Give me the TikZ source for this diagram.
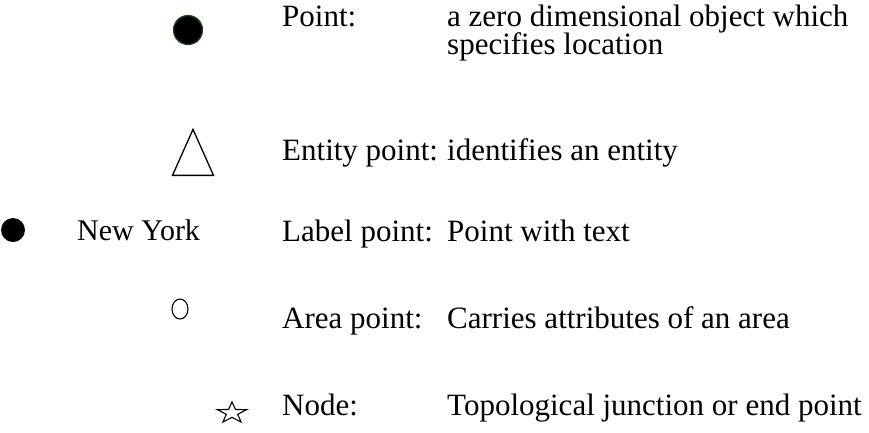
\documentclass[tikz,border=0pt]{standalone}
\usepackage{fontspec}
\setmainfont{Liberation Serif}
\usetikzlibrary{shapes.geometric}
\definecolor{ptgreen}{HTML}{1E4A1E}
\begin{document}
\begin{tikzpicture}[x=1pt,y=-1pt,
  lbl/.style={anchor=base west,inner sep=0pt,font=\fontsize{31}{32}\selectfont},
  sym/.style={draw=black,line width=1.3pt}]
\useasboundingbox (0,0) rectangle (869,432);
% symbols
\node[circle,fill=black,draw=ptgreen,line width=1.2pt,minimum size=29pt,inner sep=0pt] (pt) at (188,30) {};
\node[sym,isosceles triangle,isosceles triangle apex angle=48,shape border rotate=90,minimum height=46pt,inner sep=0pt,anchor=south] (ent) at (193,176) {};
\node[circle,fill=black,minimum size=24pt,inner sep=0pt] (lp) at (13,230) {};
\node[sym,ellipse,line width=1.1pt,minimum width=16pt,minimum height=20pt,inner sep=0pt] (ap) at (180,309) {};
\node[sym,line width=1.1pt,star,star points=5,star point ratio=2.6,minimum size=31pt,inner sep=0pt,yscale=0.72] (nd) at (232,413) {};
% texts
\node[lbl,font=\fontsize{30}{32}\selectfont] (ny) at (77,240) {New York};
\node[lbl] (t1) at (282,26) {Point:};
\node[lbl] (d1) at (447,26) {a zero dimensional object which};
\node[lbl] (d1b) at (447,54) {specifies location};
\node[lbl] (t2) at (282,160) {Entity point:};
\node[lbl] (d2) at (447,160) {identifies an entity};
\node[lbl] (t3) at (282,241) {Label point:};
\node[lbl] (d3) at (447,241) {Point with text};
\node[lbl] (t4) at (282,328) {Area point:};
\node[lbl] (d4) at (447,328) {Carries attributes of an area};
\node[lbl] (t5) at (282,415) {Node:};
\node[lbl] (d5) at (447,415) {Topological junction or end point};
\end{tikzpicture}
\end{document}
